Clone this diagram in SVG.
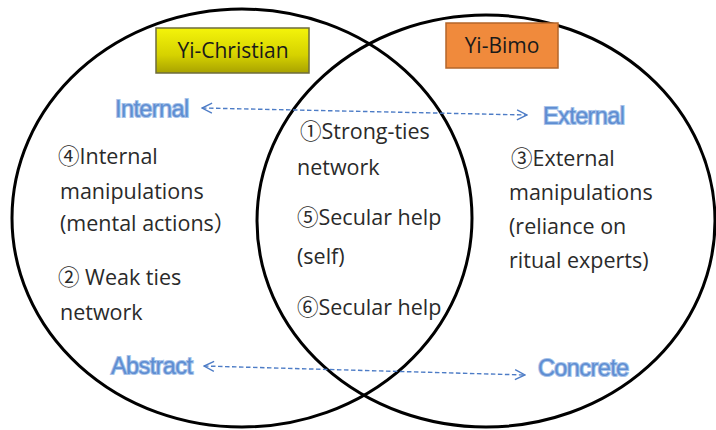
<svg xmlns="http://www.w3.org/2000/svg" width="716" height="430" viewBox="0 0 716 430">
  <style>
    .ring { fill: none; stroke: #000; stroke-width: 3; }
    .body { font-family: "Open Sans", "Noto Sans CJK JP", sans-serif; font-size: 21.5px; fill: #2a2a2a; }
    .title { font-family: "Open Sans", "Noto Sans CJK JP", sans-serif; font-size: 21px; fill: #1a1a1a; text-anchor: middle; }
    .axis { font-family: "Liberation Sans", Arial, sans-serif; font-size: 23.5px; letter-spacing: -0.6px; fill: #5f8ed2; stroke: #a6c3ea; stroke-width: 2; paint-order: stroke; }
    .conn { fill: none; stroke: #4d7cc6; stroke-width: 1.4; stroke-dasharray: 4.5 2.5; }
  </style>
  <defs>
    <linearGradient id="yellowGrad" x1="0" y1="0" x2="0" y2="1">
      <stop offset="0" stop-color="#f4f40a"/>
      <stop offset="0.6" stop-color="#d6d200"/>
      <stop offset="1" stop-color="#a8a200"/>
    </linearGradient>
    <marker id="chev" viewBox="0 0 12 12" refX="11" refY="6" markerWidth="12" markerHeight="12" markerUnits="userSpaceOnUse" orient="auto-start-reverse">
      <polyline points="1,1 11,6 1,11" fill="none" stroke="#4d7cc6" stroke-width="1.4"/>
    </marker>
  </defs>
  <rect width="716" height="430" fill="#ffffff"/>

  <g id="circle-yi-christian">
    <ellipse class="ring" cx="242" cy="218" rx="230" ry="209"/>
  </g>
  <g id="circle-yi-bimo">
    <ellipse class="ring" cx="486" cy="221" rx="229" ry="206"/>
  </g>

  <g id="connectors">
    <line class="conn" x1="202" y1="108" x2="527" y2="115" marker-start="url(#chev)" marker-end="url(#chev)"/>
    <line class="conn" x1="204" y1="366" x2="525" y2="375" marker-start="url(#chev)" marker-end="url(#chev)"/>
  </g>

  <g id="yi-christian">
    <rect x="156" y="28" width="153" height="45" fill="url(#yellowGrad)" stroke="#6e6c3c" stroke-width="1.5"/>
    <text class="title" x="233" y="58">Yi-Christian</text>
  </g>
  <g id="yi-bimo">
    <rect x="446" y="23" width="112" height="45" fill="#f08a3c" stroke="#b4662a" stroke-width="1.5"/>
    <text class="title" x="502" y="53">Yi-Bimo</text>
  </g>

  <g id="internal"><text class="axis" x="115" y="117">Internal</text></g>
  <g id="external"><text class="axis" x="543" y="124">External</text></g>
  <g id="abstract"><text class="axis" x="111" y="374">Abstract</text></g>
  <g id="concrete"><text class="axis" x="538" y="376">Concrete</text></g>

  <g id="left-items">
    <text class="body" x="58" y="164">④Internal</text>
    <text class="body" x="60" y="199">manipulations</text>
    <text class="body" x="60" y="231">(mental actions）</text>
    <text class="body" x="58" y="285">② Weak ties</text>
    <text class="body" x="60" y="320">network</text>
  </g>

  <g id="center-items">
    <text class="body" x="300" y="139">①Strong-ties</text>
    <text class="body" x="297" y="175">network</text>
    <text class="body" x="297" y="225">⑤Secular help</text>
    <text class="body" x="297" y="264">(self)</text>
    <text class="body" x="297" y="315">⑥Secular help</text>
  </g>

  <g id="right-items">
    <text class="body" x="511" y="166">③External</text>
    <text class="body" x="509" y="200">manipulations</text>
    <text class="body" x="509" y="234">(reliance on</text>
    <text class="body" x="509" y="268">ritual experts)</text>
  </g>
</svg>
